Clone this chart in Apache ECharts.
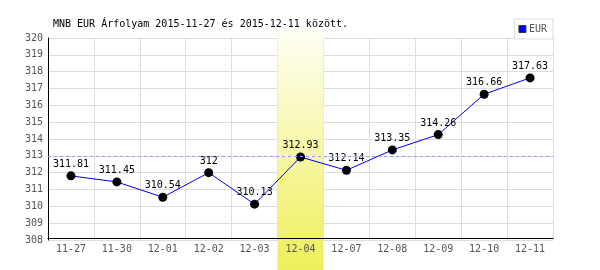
<!DOCTYPE html>
<html><head><meta charset="utf-8">
<script src="https://cdn.jsdelivr.net/npm/echarts@6/dist/echarts.min.js"></script>
<style>html,body{margin:0;padding:0;background:#fff}#c{width:600px;height:270px}</style>
</head><body><div id="c"></div>
<script>
const titleText = 'MNB EUR Árfolyam 2015-11-27 és 2015-12-11 között.';
const seriesName = 'EUR';
const categories = ['11-27','11-30','12-01','12-02','12-03','12-04','12-07','12-08','12-09','12-10','12-11'];
const values = [311.81, 311.45, 310.54, 312, 310.13, 312.93, 312.14, 313.35, 314.26, 316.66, 317.63];
const yMin = 308, yMax = 320, yStep = 1;
const highlightCategory = '12-04';

const FONT = 'DejaVu Sans Mono';
const avg = values.reduce((a, b) => a + b, 0) / values.length;
const grid = {left: 48, top: 38, right: 47, bottom: 30};

const chart = echarts.init(document.getElementById('c'), null, {renderer: 'canvas'});
chart.setOption({
  animation: false,
  backgroundColor: '#ffffff',
  title: {text: titleText, left: 53, top: 19, padding: 0,
    textStyle: {fontFamily: FONT, fontSize: 10, fontWeight: 'normal', color: '#000'}},
  legend: {
    data: [{name: seriesName, icon: 'rect', itemStyle: {color: '#0000ff', borderColor: '#333', borderWidth: 1}}],
    right: 47, top: 19, itemWidth: 7, itemHeight: 7, itemGap: 2,
    padding: [5, 6, 5, 4], borderColor: '#dddddd', borderWidth: 1, backgroundColor: '#fff',
    textStyle: {fontFamily: FONT, fontSize: 10, color: '#555', padding: [0, 0, 0, -2]}
  },
  grid: grid,
  xAxis: [
    {type: 'category', data: categories, boundaryGap: true, z: 0,
     axisLine: {show: false}, axisTick: {show: false}, axisLabel: {show: false},
     splitLine: {show: true, lineStyle: {color: '#dddddd', width: 1}}},
    {type: 'category', data: categories, boundaryGap: true, z: 3, position: 'bottom', offset: -2,
     axisLine: {show: true, lineStyle: {color: '#000', width: 1}}, axisTick: {show: false},
     axisLabel: {fontFamily: FONT, fontSize: 10, color: '#555', margin: 6},
     splitLine: {show: false}}
  ],
  yAxis: [
    {type: 'value', min: yMin, max: yMax, interval: yStep, z: 0,
     axisLine: {show: false}, axisTick: {show: false}, axisLabel: {show: false},
     splitLine: {show: true, lineStyle: {color: '#dddddd', width: 1}}},
    {type: 'value', min: yMin, max: yMax, interval: yStep, z: 3, position: 'left',
     axisLine: {show: true, lineStyle: {color: '#000', width: 1}}, axisTick: {show: false},
     axisLabel: {fontFamily: FONT, fontSize: 10, color: '#555', margin: 5},
     splitLine: {show: false}}
  ],
  series: [
    {name: 'avg', type: 'line', data: [], z: 1, silent: true,
     markLine: {silent: true, symbol: 'none', label: {show: false},
       lineStyle: {color: '#9999ee', type: [3, 3], width: 1},
       data: [{yAxis: avg}]}},
    {name: seriesName, type: 'line', data: values, z: 4,
     color: '#0000ff',
     lineStyle: {color: '#0000ff', width: 1},
     symbol: 'circle', symbolSize: 9,
     itemStyle: {color: '#000'},
     label: {show: true, position: 'top', distance: 2, fontFamily: FONT, fontSize: 10, color: '#000'}}
  ]
});

const idx = categories.indexOf(highlightCategory);
const cx = chart.convertToPixel({xAxisIndex: 0}, idx);
const bandW = (600 - grid.left - grid.right) / categories.length;
const topY = grid.top - 8;
chart.setOption({
  graphic: [{
    type: 'rect', z: 2, silent: true,
    shape: {x: cx - bandW / 2, y: topY, width: bandW, height: 270 - topY},
    style: {fill: new echarts.graphic.LinearGradient(0, 0, 0, 1, [
      {offset: 0, color: '#fffff4'}, {offset: 1, color: '#eeee5a'}])}
  }]
});
</script></body></html>
